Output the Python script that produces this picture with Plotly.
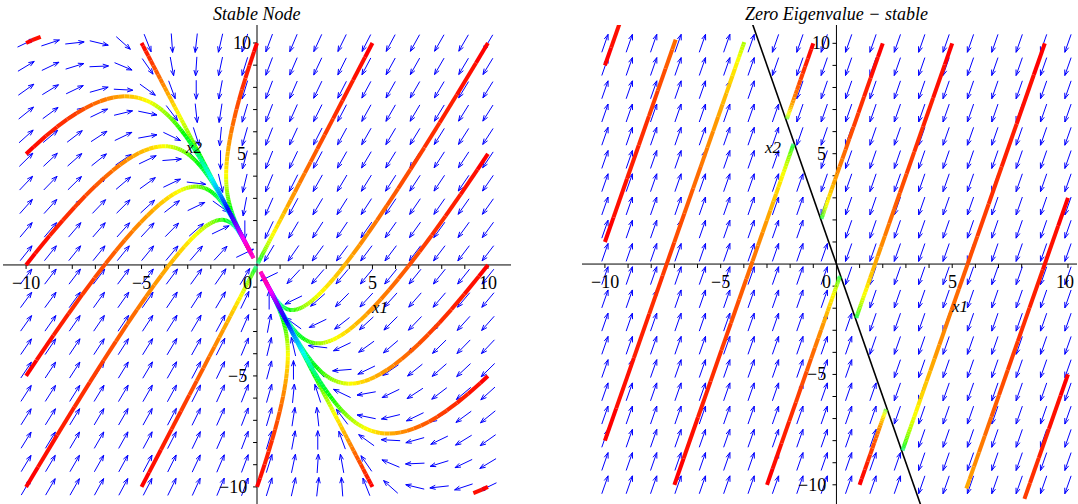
import colorsys
import numpy as np
import plotly.graph_objects as go

# ---------------- data ----------------
A_LEFT = [[-3.0, -1.0], [-4.0, -3.0]]      # stable node: eigenvalues -1, -5
A_RIGHT = [[-3.0, -1.0], [-9.0, -3.0]]     # zero eigenvalue: eigenvalues 0, -6
IC_LEFT = [(-10, 10), (-5, 10), (0, 10), (5, 10), (10, 10), (10, 5), (10, 0), (10, -5),
           (10, -10), (5, -10), (0, -10), (-5, -10), (-10, -10), (-10, -5), (-10, 0), (-10, 5)]
IC_RIGHT = [(-10, 9), (-10, 1), (-10, -8), (-7, -10), (-3, -10), (1, -10),
            (10, -5), (10, 3), (9, 10), (5, 10), (2, 10), (-1, 10)]
T_END = 2.8
STEP = 1.0 / 30.0
BOX = 10.0
GRID = np.linspace(-10, 10, 20)
# colour along a trajectory (hue as a function of time)
T_ANCHORS = [0.0, 0.4, 0.7, 1.15, 1.6, 2.3, 2.8]
HUE_ANCHORS = [0.0, 0.17, 0.33, 0.5, 0.67, 0.83, 0.9]
TICK_LABELS = [-10, -5, 5, 10]
TITLES = ["<i>Stable Node</i>", "<i>Zero Eigenvalue − stable</i>"]

# ---------------- layout geometry ----------------
W, H = 1078, 504
XDOM = [[3 / W, 511 / W], [582 / W, 1077 / W]]
XRNG = [[-11.0, 11.0], [-10.99, 10.39]]
YDOM = [0.0, 479 / H]
YRNG = [[-10.77, 10.81], [-10.87, 10.83]]
FONT = "Liberation Serif, Times New Roman, serif"
TICK_SIZE = 18


def integrate(A, p0, sub=10):
    A = np.array(A, float)
    p = np.array(p0, float)
    h = STEP / sub
    pts, ts = [p.copy()], [0.0]
    for _ in range(int(round(T_END / STEP))):
        for _ in range(sub):
            k1 = A @ p
            k2 = A @ (p + h / 2 * k1)
            k3 = A @ (p + h / 2 * k2)
            k4 = A @ (p + h * k3)
            p = p + h / 6 * (k1 + 2 * k2 + 2 * k3 + k4)
            pts.append(p.copy())
            ts.append(ts[-1] + h)
        if np.any(np.abs(p) > BOX + 1e-9):
            break
    return np.array(pts), np.array(ts)


def hue_of(t):
    return np.interp(t, T_ANCHORS, HUE_ANCHORS)


def rgb(hb):
    r, g, b = colorsys.hsv_to_rgb(hb, 1.0, 1.0)
    return "rgb(%d,%d,%d)" % (round(r * 255), round(g * 255), round(b * 255))


fig = go.Figure()


def px_scale(i):
    sx = (XDOM[i][1] - XDOM[i][0]) * W / (XRNG[i][1] - XRNG[i][0])
    sy = (YDOM[1] - YDOM[0]) * H / (YRNG[i][1] - YRNG[i][0])
    return sx, sy


def add_arrows(i, A, xa, ya):
    A = np.array(A, float)
    sx, sy = px_scale(i)
    L, hl, ang = 19.0, 6.0, np.radians(20)
    xs, ys = [], []
    for gx in GRID:
        for gy in GRID:
            u, v = A @ np.array([gx, gy])
            d = np.array([u * sx, v * sy])
            n = np.hypot(*d)
            if n < 1e-12:
                continue
            d /= n
            c = np.array([gx * sx, gy * sy])
            tail = c - d * L / 2
            tip = c + d * L / 2
            segs = [tail, tip]
            for a in (ang, -ang):
                rot = np.array([[np.cos(a), -np.sin(a)], [np.sin(a), np.cos(a)]])
                b = tip - (rot @ d) * hl
                segs.append(None)
                segs.extend([tip, b])
            for s in segs:
                if s is None:
                    xs.append(None); ys.append(None)
                else:
                    xs.append(s[0] / sx); ys.append(s[1] / sy)
            xs.append(None); ys.append(None)
    fig.add_trace(go.Scatter(x=xs, y=ys, mode="lines", line=dict(color="#0000ff", width=1),
                             xaxis=xa, yaxis=ya, hoverinfo="skip", showlegend=False))


def add_axes(i, xa, ya):
    xr, yr = XRNG[i], YRNG[i]
    fig.add_trace(go.Scatter(x=[xr[0], xr[1], None, 0, 0], y=[0, 0, None, yr[0], yr[1]],
                             mode="lines", line=dict(color="black", width=1),
                             xaxis=xa, yaxis=ya, hoverinfo="skip", showlegend=False))
    tx, ty = [], []
    for k in range(-10, 11):
        if k == 0:
            continue
        tx += [k, k, None]; ty += [0, -0.18, None]
        tx += [0, -0.17, None]; ty += [k, k, None]
    fig.add_trace(go.Scatter(x=tx, y=ty, mode="lines", line=dict(color="black", width=1),
                             xaxis=xa, yaxis=ya, hoverinfo="skip", showlegend=False))
    fnt = dict(family=FONT, size=TICK_SIZE, color="black")
    for v in TICK_LABELS:
        lab = str(v).replace("-", "−")
        xpos, xanc = v, "center"
        if v == TICK_LABELS[-1] and xr[1] < v + 0.6:
            xpos, xanc = xr[1] - 0.04, "right"
        fig.add_annotation(x=xpos, y=-0.8, xref=xa, yref=ya, text=lab, showarrow=False,
                           xanchor=xanc, yanchor="middle", font=fnt)
        if v > 0:
            fig.add_annotation(x=-0.65, y=v, xref=xa, yref=ya, text=lab, showarrow=False,
                               xanchor="center", yanchor="middle", font=fnt)
        else:
            fig.add_annotation(x=-0.36, y=v, xref=xa, yref=ya, text=lab, showarrow=False,
                               xanchor="right", yanchor="middle", font=fnt)
    fig.add_annotation(x=-0.43, y=-0.8, xref=xa, yref=ya, text="0", showarrow=False,
                       xanchor="center", yanchor="middle", font=fnt)
    fig.add_annotation(x=5.32, y=-1.92, xref=xa, yref=ya, text="<i>x1</i>", showarrow=False,
                       xanchor="center", yanchor="middle", font=dict(family=FONT, size=17, color="black"))
    fig.add_annotation(x=-2.75, y=5.28, xref=xa, yref=ya, text="<i>x2</i>", showarrow=False,
                       xanchor="center", yanchor="middle", font=dict(family=FONT, size=17, color="black"))
    fig.add_annotation(x=0, y=1 - 14 / H, xref=xa, yref="paper", text=TITLES[i], showarrow=False,
                       xanchor="center", yanchor="middle", font=dict(family=FONT, size=18, color="black"))


def add_trajectories(A, ics, xa, ya):
    bins = {}
    for ic in ics:
        pts, ts = integrate(A, ic)
        tm = 0.5 * (ts[:-1] + ts[1:])
        hb = np.round(hue_of(tm) * 100).astype(int)
        n = len(hb)
        i = 0
        while i < n:
            j = i
            while j + 1 < n and hb[j + 1] == hb[i]:
                j += 1
            seg = pts[i:j + 2]
            bx, by = bins.setdefault(int(hb[i]), ([], []))
            bx.extend(seg[:, 0].tolist() + [None])
            by.extend(seg[:, 1].tolist() + [None])
            i = j + 1
    for b in sorted(bins):
        bx, by = bins[b]
        fig.add_trace(go.Scatter(x=bx, y=by, mode="lines", line=dict(color=rgb(b / 100), width=4),
                                 xaxis=xa, yaxis=ya, hoverinfo="skip", showlegend=False))


def add_equilibrium_line(A, xa, ya):
    _, _, vt = np.linalg.svd(np.array(A, float))
    nvec = vt[-1]
    s = 11.0 / abs(nvec[1])
    p1, p2 = s * nvec, -s * nvec
    fig.add_trace(go.Scatter(x=[p1[0], p2[0]], y=[p1[1], p2[1]], mode="lines",
                             line=dict(color="black", width=1.6),
                             xaxis=xa, yaxis=ya, hoverinfo="skip", showlegend=False))


# left panel
add_axes(0, "x", "y")
add_arrows(0, A_LEFT, "x", "y")
add_trajectories(A_LEFT, IC_LEFT, "x", "y")
# right panel
add_axes(1, "x2", "y2")
add_arrows(1, A_RIGHT, "x2", "y2")
add_equilibrium_line(A_RIGHT, "x2", "y2")
add_trajectories(A_RIGHT, IC_RIGHT, "x2", "y2")

ax_common = dict(visible=False, showgrid=False, zeroline=False, fixedrange=True)
fig.update_layout(
    width=W, height=H, margin=dict(l=0, r=0, t=0, b=0),
    paper_bgcolor="white", plot_bgcolor="white", showlegend=False,
    xaxis=dict(domain=XDOM[0], range=XRNG[0], **ax_common),
    yaxis=dict(domain=YDOM, range=YRNG[0], **ax_common),
    xaxis2=dict(domain=XDOM[1], range=XRNG[1], anchor="y2", **ax_common),
    yaxis2=dict(domain=YDOM, range=YRNG[1], anchor="x2", **ax_common),
)
fig.write_html("out.html", config={"displayModeBar": False},
               post_script="document.body.style.margin='0';document.body.style.overflow='hidden';")
